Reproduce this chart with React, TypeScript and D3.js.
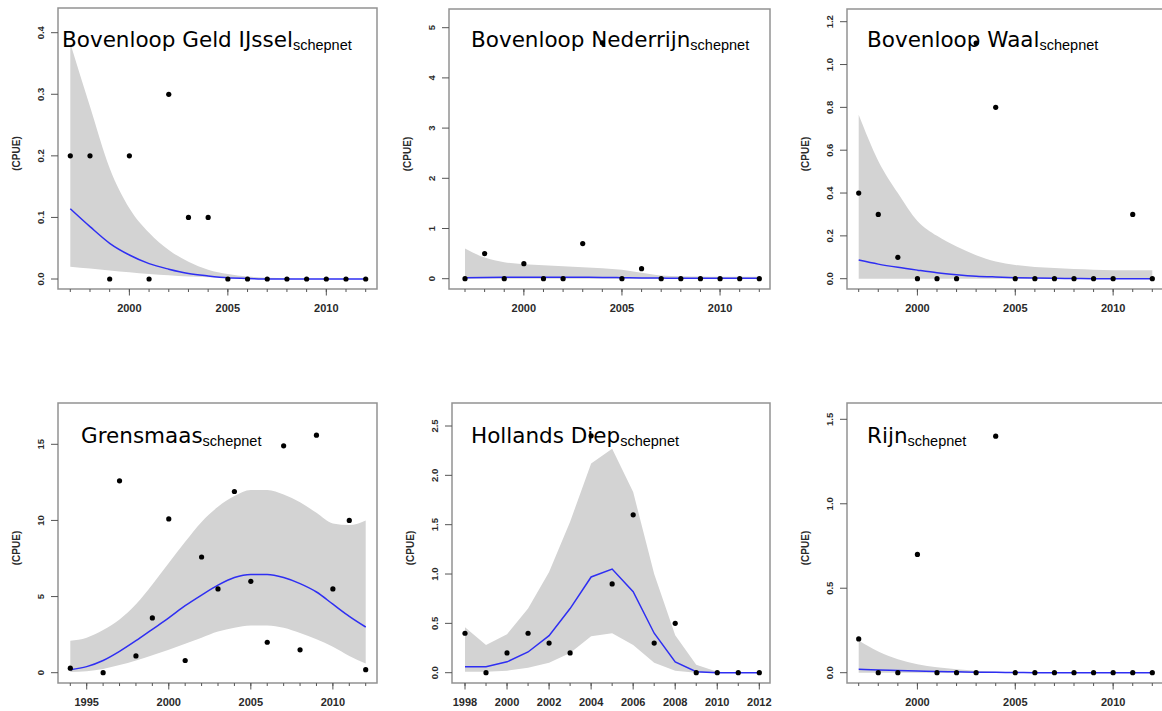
import * as d3 from "d3";

// ---- data ----
const yearsGeldIJssel = [1997, 1998, 1999, 2000, 2001, 2002, 2003, 2004, 2005, 2006, 2007, 2008, 2009, 2010, 2011, 2012];
const cpueGeldIJssel = [0.2, 0.2, 0, 0.2, 0, 0.3, 0.1, 0.1, 0, 0, 0, 0, 0, 0, 0, 0];
const fitGeldIJssel = [0.114, 0.085, 0.058, 0.039, 0.025, 0.016, 0.009, 0.005, 0.002, 0.001, 0, 0, 0, 0, 0, 0];
const upperGeldIJssel = [0.383, 0.28, 0.18, 0.115, 0.075, 0.047, 0.028, 0.015, 0.008, 0.004, 0.002, 0.001, 0, 0, 0, 0];
const lowerGeldIJssel = [0.02, 0.017, 0.014, 0.011, 0.008, 0.006, 0.004, 0.003, 0.002, 0.001, 0, 0, 0, 0, 0, 0];

const yearsNederrijn = [1997, 1998, 1999, 2000, 2001, 2002, 2003, 2004, 2005, 2006, 2007, 2008, 2009, 2010, 2011, 2012];
const cpueNederrijn = [0, 0.5, 0, 0.3, 0, 0, 0.7, 4.7, 0, 0.2, 0, 0, 0, 0, 0, 0];
const fitNederrijn = [0.02, 0.025, 0.027, 0.028, 0.028, 0.028, 0.027, 0.025, 0.02, 0.015, 0.012, 0.01, 0.01, 0.01, 0.01, 0.01];
const upperNederrijn = [0.6, 0.42, 0.33, 0.29, 0.27, 0.25, 0.23, 0.21, 0.18, 0.12, 0.066, 0.05, 0.045, 0.04, 0.04, 0.04];
const lowerNederrijn = [0, 0, 0, 0, 0, 0, 0, 0, 0, 0, 0, 0, 0, 0, 0, 0];

const yearsWaal = [1997, 1998, 1999, 2000, 2001, 2002, 2003, 2004, 2005, 2006, 2007, 2008, 2009, 2010, 2011, 2012];
const cpueWaal = [0.4, 0.3, 0.1, 0, 0, 0, 1.1, 0.8, 0, 0, 0, 0, 0, 0, 0.3, 0];
const fitWaal = [0.087, 0.068, 0.053, 0.04, 0.028, 0.019, 0.012, 0.008, 0.005, 0.003, 0.002, 0.001, 0, 0, 0, 0];
const upperWaal = [0.765, 0.55, 0.4, 0.27, 0.2, 0.15, 0.11, 0.08, 0.064, 0.055, 0.05, 0.045, 0.042, 0.04, 0.04, 0.04];
const lowerWaal = [0, 0, 0, 0, 0, 0, 0, 0, 0, 0, 0, 0, 0, 0, 0, 0];

const yearsGrensmaas = [1994, 1995, 1996, 1997, 1998, 1999, 2000, 2001, 2002, 2003, 2004, 2005, 2006, 2007, 2008, 2009, 2010, 2011, 2012];
const cpueGrensmaas = [0.3, null, 0, 12.6, 1.1, 3.6, 10.1, 0.8, 7.6, 5.5, 11.9, 6.0, 2.0, 14.9, 1.5, 15.6, 5.5, 10.0, 0.2];
const fitGrensmaas = [0.2, 0.4, 0.8, 1.4, 2.1, 2.85, 3.6, 4.4, 5.1, 5.75, 6.25, 6.45, 6.45, 6.25, 5.85, 5.3, 4.5, 3.7, 3.0];
const upperGrensmaas = [2.1, 2.3, 2.8, 3.5, 4.5, 5.8, 7.2, 8.6, 9.9, 10.9, 11.6, 12.0, 12.0, 11.7, 11.2, 10.5, 9.8, 9.7, 10.0];
const lowerGrensmaas = [0.05, 0.1, 0.25, 0.5, 0.8, 1.15, 1.5, 1.9, 2.3, 2.7, 2.95, 3.1, 3.1, 2.95, 2.6, 2.2, 1.7, 1.1, 0.6];

const yearsHollandsDiep = [1998, 1999, 2000, 2001, 2002, 2003, 2004, 2005, 2006, 2007, 2008, 2009, 2010, 2011, 2012];
const cpueHollandsDiep = [0.4, 0, 0.2, 0.4, 0.3, 0.2, 2.4, 0.9, 1.6, 0.3, 0.5, 0, 0, 0, 0];
const fitHollandsDiep = [0.06, 0.06, 0.11, 0.21, 0.375, 0.65, 0.97, 1.05, 0.82, 0.4, 0.11, 0.01, 0, 0, 0];
const upperHollandsDiep = [0.46, 0.28, 0.39, 0.65, 1.02, 1.53, 2.12, 2.27, 1.83, 1.0, 0.38, 0.08, 0.01, 0, 0];
const lowerHollandsDiep = [0.01, 0.01, 0.02, 0.05, 0.1, 0.2, 0.37, 0.4, 0.28, 0.1, 0.02, 0, 0, 0, 0];

const yearsRijn = [1997, 1998, 1999, 2000, 2001, 2002, 2003, 2004, 2005, 2006, 2007, 2008, 2009, 2010, 2011, 2012];
const cpueRijn = [0.2, 0, 0, 0.7, 0, 0, 0, 1.4, 0, 0, 0, 0, 0, 0, 0, 0];
const fitRijn = [0.02, 0.016, 0.013, 0.01, 0.007, 0.005, 0.003, 0.002, 0.001, 0, 0, 0, 0, 0, 0, 0];
const upperRijn = [0.19, 0.125, 0.08, 0.05, 0.032, 0.02, 0.011, 0.006, 0.003, 0.001, 0, 0, 0, 0, 0, 0];
const lowerRijn = [0, 0, 0, 0, 0, 0, 0, 0, 0, 0, 0, 0, 0, 0, 0, 0];

const panels = [
  { title: "Bovenloop Geld IJssel", years: yearsGeldIJssel, cpue: cpueGeldIJssel, fit: fitGeldIJssel, upper: upperGeldIJssel, lower: lowerGeldIJssel, yTicks: [0, 0.1, 0.2, 0.3, 0.4], yFmt: ".1f", xMajor: [2000, 2005, 2010], smooth: true },
  { title: "Bovenloop Nederrijn", years: yearsNederrijn, cpue: cpueNederrijn, fit: fitNederrijn, upper: upperNederrijn, lower: lowerNederrijn, yTicks: [0, 1, 2, 3, 4, 5], yFmt: "d", xMajor: [2000, 2005, 2010], smooth: true },
  { title: "Bovenloop Waal", years: yearsWaal, cpue: cpueWaal, fit: fitWaal, upper: upperWaal, lower: lowerWaal, yTicks: [0, 0.2, 0.4, 0.6, 0.8, 1.0, 1.2], yFmt: ".1f", xMajor: [2000, 2005, 2010], smooth: true },
  { title: "Grensmaas", years: yearsGrensmaas, cpue: cpueGrensmaas, fit: fitGrensmaas, upper: upperGrensmaas, lower: lowerGrensmaas, yTicks: [0, 5, 10, 15], yFmt: "d", xMajor: [1995, 2000, 2005, 2010], smooth: true },
  { title: "Hollands Diep", years: yearsHollandsDiep, cpue: cpueHollandsDiep, fit: fitHollandsDiep, upper: upperHollandsDiep, lower: lowerHollandsDiep, yTicks: [0, 0.5, 1.0, 1.5, 2.0, 2.5], yFmt: ".1f", xMajor: [1998, 2000, 2002, 2004, 2006, 2008, 2010, 2012], smooth: false },
  { title: "Rijn", years: yearsRijn, cpue: cpueRijn, fit: fitRijn, upper: upperRijn, lower: lowerRijn, yTicks: [0, 0.5, 1.0, 1.5], yFmt: ".1f", xMajor: [2000, 2005, 2010], smooth: true },
];

// ---- layout: box [left, top, right, bottom], pixel ranges of x (first/last year) and y (0 / top tick)
const layout = [
  { box: [58, 8, 377, 289], xr: [70.3, 365.7], yr: [279, 32.7], tx: 62, ty: 47 },
  { box: [449, 9, 770, 289], xr: [465, 759.3], yr: [278.7, 27.7], tx: 471, ty: 47 },
  { box: [847, 9, 1165, 289], xr: [858.7, 1152.3], yr: [278.7, 21.7], tx: 867, ty: 47 },
  { box: [58, 403, 377, 683], xr: [70.3, 365.7], yr: [672.7, 444.3], tx: 81, ty: 443 },
  { box: [452, 403, 770, 683], xr: [465, 759.3], yr: [672.7, 426], tx: 471, ty: 443 },
  { box: [847, 403, 1165, 683], xr: [858.7, 1152.3], yr: [672.7, 419.3], tx: 867, ty: 443 },
];

const Panel = ({ p, l }) => {
  const [bx0, by0, bx1, by1] = l.box;
  const x = d3.scaleLinear().domain([p.years[0], p.years[p.years.length - 1]]).range(l.xr);
  const y = d3.scaleLinear().domain([0, p.yTicks[p.yTicks.length - 1]]).range(l.yr);
  const curve = p.smooth ? d3.curveMonotoneX : d3.curveLinear;
  const idx = p.years.map((_, i) => i);

  const band = d3.area<number>()
    .x((i) => x(p.years[i]))
    .y0((i) => y(p.lower[i]))
    .y1((i) => y(p.upper[i]))
    .curve(curve);
  const line = d3.line<number>()
    .x((i) => x(p.years[i]))
    .y((i) => y(p.fit[i]))
    .curve(curve);
  const fmt = d3.format(p.yFmt);
  const tickFont = "'Liberation Sans', Arial, sans-serif";

  return (
    <g>
      <path d={band(idx)} fill="#d3d3d3" />
      <path d={line(idx)} fill="none" stroke="#2e2ef2" strokeWidth={1.5} />
      {p.cpue.map((v, i) =>
        v == null ? null : <circle key={i} cx={x(p.years[i])} cy={y(v)} r={2.6} fill="#000" />
      )}
      <rect x={bx0} y={by0} width={bx1 - bx0} height={by1 - by0} fill="none" stroke="#929292" strokeWidth={1.5} />

      {/* x axis: minor ticks every year, long ticks + labels on majors */}
      {p.years.map((yr) => (
        <line key={"m" + yr} x1={x(yr)} x2={x(yr)} y1={by1} y2={by1 + 3} stroke="#555" strokeWidth={1} />
      ))}
      {p.xMajor.map((yr) => (
        <g key={"M" + yr}>
          <line x1={x(yr)} x2={x(yr)} y1={by1} y2={by1 + 6.5} stroke="#555" strokeWidth={1} />
          <text x={x(yr)} y={by1 + 19} textAnchor="middle" dominantBaseline="central"
            fontFamily={tickFont} fontWeight="bold" fontSize={11} fill="#2a2a2a">{yr}</text>
        </g>
      ))}

      {/* y axis */}
      {p.yTicks.map((t) => (
        <g key={"y" + t}>
          <line x1={bx0 - 7} x2={bx0} y1={y(t)} y2={y(t)} stroke="#555" strokeWidth={1} />
          <text transform={`translate(${bx0 - 18},${y(t)}) rotate(-90)`} textAnchor="middle" dominantBaseline="central"
            fontFamily={tickFont} fontWeight="bold" fontSize={9.5} fill="#2a2a2a">{fmt(t)}</text>
        </g>
      ))}
      <text transform={`translate(${bx0 - 42},${(by0 + by1) / 2 + 5}) rotate(-90)`} textAnchor="middle" dominantBaseline="central"
        fontFamily={tickFont} fontWeight="bold" fontSize={10} fill="#2a2a2a">(CPUE)</text>

      <text x={l.tx} y={l.ty} fontFamily="'DejaVu Sans', Verdana, sans-serif" fontSize={21.5} fill="#000">
        {p.title}
        <tspan fontFamily="'Liberation Sans', Arial, sans-serif" fontSize={14.5} dy={3}>schepnet</tspan>
      </text>
    </g>
  );
};

export default function App() {
  return (
    <svg width={1162} height={711} style={{ position: "absolute", left: 0, top: 0, background: "#fff" }}>
      <rect width={1162} height={711} fill="#fff" />
      {panels.map((p, i) => (
        <Panel key={p.title} p={p} l={layout[i]} />
      ))}
    </svg>
  );
}
